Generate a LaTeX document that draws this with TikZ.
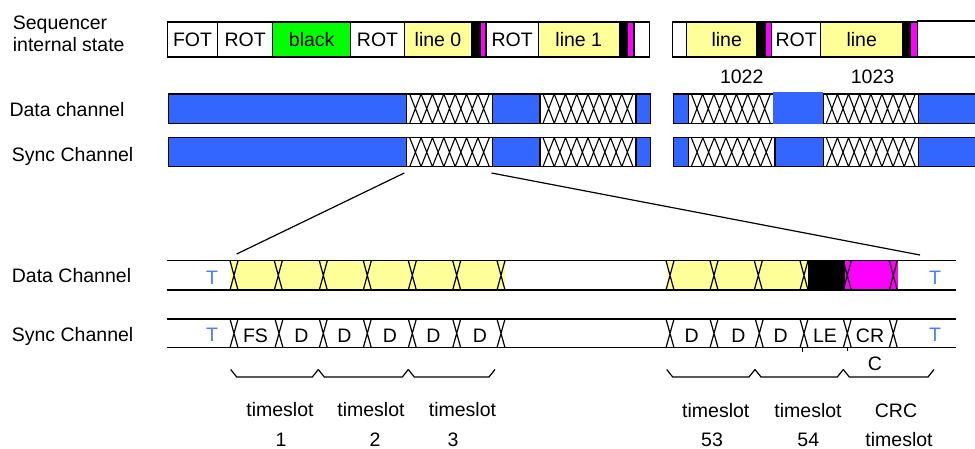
\documentclass[tikz,border=0pt]{standalone}
\usepackage{fontspec}
\setmainfont{Liberation Sans}
\definecolor{chblue}{HTML}{3366FF}
\definecolor{ylw}{HTML}{FFFF99}
\definecolor{grn}{HTML}{00FF00}
\definecolor{mag}{HTML}{FF00FF}
\definecolor{tblue}{HTML}{4A7DFF}
\newcommand{\myfs}{\fontsize{19.5}{22}\selectfont}
\tikzset{
  seg/.style={rectangle, draw=black, line width=1.2pt, inner sep=0pt, outer sep=0pt},
  lbl/.style={inner sep=0pt, anchor=base west},
  txt/.style={inner sep=0pt, anchor=base},
  tlab/.style={inner sep=0pt, text=tblue},
  sig/.style={line width=1.2pt, black},
  hl/.style={line width=1.1pt, black},
  zoomline/.style={line width=1.2pt, black}
}
% name, style, x1, x2, y1, y2, text
\newcommand{\mkseg}[7]{%
  \node[seg,#2,minimum width={(#4-#3)*1pt},minimum height={(#6-#5)*1pt}] (#1) at ({(#3+#4)/2},{(#5+#6)/2}) {#7};}
% name, x1, x2, y1, y2, n
\newcommand{\xhatchbox}[6]{%
  \mkseg{#1}{fill=white}{#2}{#3}{#4}{#5}{}%
  \pgfmathsetmacro\hp{(#3-#2-6)/#6}%
  \draw[hl] foreach \i in {1,...,#6}{({#2+3+(\i-1)*\hp},#4) -- ({#2+3+\i*\hp},#5) ({#2+3+(\i-1)*\hp},#5) -- ({#2+3+\i*\hp},#4)};}
% crossing: x, ytop, ybot
\newcommand{\xg}[3]{\draw[sig] ({#1-4},#2) -- ({#1+4},#3) ({#1+4},#2) -- ({#1-4},#3);}
% bracket: x1, x2
\newcommand{\brk}[2]{\draw[sig] (#1,369.5) -- ({#1+6},377) -- ({#2-6},377) -- (#2,369.5);}
\begin{document}
\begin{tikzpicture}[x=1pt,y=-1pt,font=\myfs]
\useasboundingbox (0,0) rectangle (975,449);

% ---- left labels
\node[lbl] (seqA) at (12.7,29.3) {Sequencer};
\node[lbl] (seqB) at (12.7,51.7) {internal state};
\node[lbl] (dch) at (9.3,116.7) {Data channel};
\node[lbl] (sch) at (11.7,161.7) {Sync Channel};
\node[lbl] (dch2) at (11.7,282.3) {Data Channel};
\node[lbl] (sch2) at (11.7,341.7) {Sync Channel};

% ---- sequencer state
\mkseg{s1}{fill=white}{167.3}{217.7}{22}{57}{FOT}
\mkseg{s2}{fill=white}{217.7}{272.7}{22}{57}{ROT}
\mkseg{s3}{fill=grn}{272.7}{350.7}{22}{57}{black}
\mkseg{s4}{fill=white}{350.7}{404.3}{22}{57}{ROT}
\mkseg{s5}{fill=ylw}{404.3}{471.7}{22}{57}{line 0}
\mkseg{s6}{fill=black}{471.7}{480.5}{22}{57}{}
\mkseg{s7}{fill=mag}{480.5}{486}{22}{57}{}
\mkseg{s8}{fill=white}{486}{538.3}{22}{57}{ROT}
\mkseg{s9}{fill=ylw}{538.3}{619.3}{22}{57}{line 1}
\mkseg{s10}{fill=black}{619.3}{627.7}{22}{57}{}
\mkseg{s11}{fill=mag}{627.7}{634}{22}{57}{}
\mkseg{s12}{fill=white}{634}{649.3}{22}{57}{}

\mkseg{r1}{fill=white}{672.3}{686.7}{22}{57}{}
\mkseg{r2}{fill=ylw}{686.7}{756.7}{22}{57}{\hspace{10pt}line}
\mkseg{r3}{fill=black}{756.7}{765.3}{22}{57}{}
\mkseg{r4}{fill=mag}{765.3}{771.7}{22}{57}{}
\mkseg{r5}{fill=white}{771.7}{820.7}{22}{57}{ROT}
\mkseg{r6}{fill=ylw}{820.7}{902.7}{22}{57}{line}
\mkseg{r7}{fill=black}{902.7}{910.7}{22}{57}{}
\mkseg{r8}{fill=mag}{910.7}{917.3}{22}{57}{}
\mkseg{r9}{fill=white}{917.3}{980}{21}{57}{}
\node[txt] (n1022) at (741.7,83.5) {1022};
\node[txt] (n1023) at (872.5,83.5) {1023};

% ---- data channel (top)
\mkseg{d1}{fill=chblue}{168.3}{406.7}{94}{123.3}{}
\xhatchbox{dh1}{406.7}{492.3}{94}{123.3}{7}
\mkseg{d2}{fill=chblue}{492.3}{540}{94}{123.3}{}
\xhatchbox{dh2}{540}{636}{94}{123.3}{8}
\mkseg{d3}{fill=chblue}{636}{650.7}{94}{123.3}{}
\mkseg{d4}{fill=chblue}{673.3}{688.3}{94}{123.3}{}
\xhatchbox{dh3}{688.3}{773.3}{94}{123.3}{7}
\mkseg{d5}{draw=none,fill=chblue}{773.3}{823.3}{92.5}{123.8}{}
\xhatchbox{dh4}{823.3}{918.3}{94}{123.3}{8}
\mkseg{d6}{fill=chblue}{918.3}{980}{94}{123.3}{}

% ---- sync channel (top)
\mkseg{y1}{fill=chblue}{168.3}{406.7}{137.7}{166.7}{}
\xhatchbox{sh1}{406.7}{492.3}{137.7}{166.7}{7}
\mkseg{y2}{fill=chblue}{492.3}{540}{137.7}{166.7}{}
\xhatchbox{sh2}{540}{636}{137.7}{166.7}{8}
\mkseg{y3}{fill=chblue}{636}{650.7}{137.7}{166.7}{}
\mkseg{y4}{fill=chblue}{673.3}{688.3}{137.7}{166.7}{}
\xhatchbox{sh3}{688.3}{775}{137.7}{166.7}{7}
\mkseg{y5}{fill=chblue}{775}{823.3}{137.7}{166.7}{}
\xhatchbox{sh4}{823.3}{918.3}{137.7}{166.7}{8}
\mkseg{y6}{fill=chblue}{918.3}{980}{137.7}{166.7}{}

% ---- zoom lines
\coordinate (zs1) at (404.3,173);
\coordinate (zs2) at (491.5,173);
\coordinate (ze1) at (236.7,254);
\coordinate (ze2) at (920,255);
\draw[zoomline] (zs1) -- (ze1);
\draw[zoomline] (zs2) -- (ze2);

% ---- data channel (bottom)
\fill[ylw] (230,260.7) rectangle (505,290);
\fill[ylw] (666.7,260.7) rectangle (808.3,290);
\fill[black] (808.3,260.7) rectangle (845,290);
\fill[mag] (845,260.7) rectangle (898.3,290);
\coordinate (dtl) at (166.7,260.7);
\coordinate (dtr) at (956,260.7);
\coordinate (dbl) at (166.7,290);
\coordinate (dbr) at (956,290);
\draw[sig] (dtl) -- (dtr);
\draw[sig] (dbl) -- (dbr);
\foreach \x in {234,278.3,323.3,367.3,412.3,456.7,501,670,714,758.3,804,847.3,893.3}{\xg{\x}{260.7}{290}}
\node[tlab] (tdl) at (212,278) {T};
\node[tlab] (tdr) at (935,278) {T};

% ---- sync channel (bottom)
\coordinate (stl) at (166.7,319);
\coordinate (str) at (956,319);
\coordinate (sbl) at (166.7,347.7);
\coordinate (sbr) at (956,347.7);
\draw[sig] (stl) -- (str);
\draw[sig] (sbl) -- (sbr);
\foreach \x in {234,279,323.3,367.3,412.3,456.7,501,670,714,759.3,804,847.3,893.3}{\xg{\x}{319}{347.7}}
\draw[sig] (802.7,347.7) -- (802.7,351.5);
\draw[sig] (847.3,347.7) -- (847.3,350.5);
\node[tlab] (tsl) at (212,335) {T};
\node[tlab] (tsr) at (935,335) {T};
\node[inner sep=0pt] (fs) at (255.5,336) {FS};
\node[inner sep=0pt] (dA) at (301.5,336) {D};
\node[inner sep=0pt] (dB) at (344.3,336) {D};
\node[inner sep=0pt] (dC) at (390,336) {D};
\node[inner sep=0pt] (dD) at (433.3,336) {D};
\node[inner sep=0pt] (dE) at (480,336) {D};
\node[inner sep=0pt] (dF) at (691.7,336) {D};
\node[inner sep=0pt] (dG) at (738.3,336) {D};
\node[inner sep=0pt] (dH) at (780.7,336) {D};
\node[inner sep=0pt] (le) at (825,336) {LE};
\node[inner sep=0pt] (cr) at (870,336) {CR};
\node[inner sep=0pt] (cc) at (875,364) {C};

% ---- brackets
\brk{230.7}{318.3}
\brk{318.3}{408.3}
\brk{408.3}{495}
\brk{666.7}{755}
\brk{755}{843.3}
\brk{843.3}{934}

% ---- timeslot labels
\node[txt] (ts1) at (280,416.7) {timeslot};
\node[txt] (ts2) at (371,416.7) {timeslot};
\node[txt] (ts3) at (462.5,416.7) {timeslot};
\node[txt] (n1) at (281,446) {1};
\node[txt] (n2) at (375,446) {2};
\node[txt] (n3) at (453,446) {3};
\node[txt] (ts53) at (715.8,417) {timeslot};
\node[txt] (ts54) at (808,417) {timeslot};
\node[txt] (crc) at (896,417) {CRC};
\node[txt] (n53) at (712,446) {53};
\node[txt] (n54) at (808.3,446) {54};
\node[txt] (tscrc) at (899,446) {timeslot};
\end{tikzpicture}
\end{document}
